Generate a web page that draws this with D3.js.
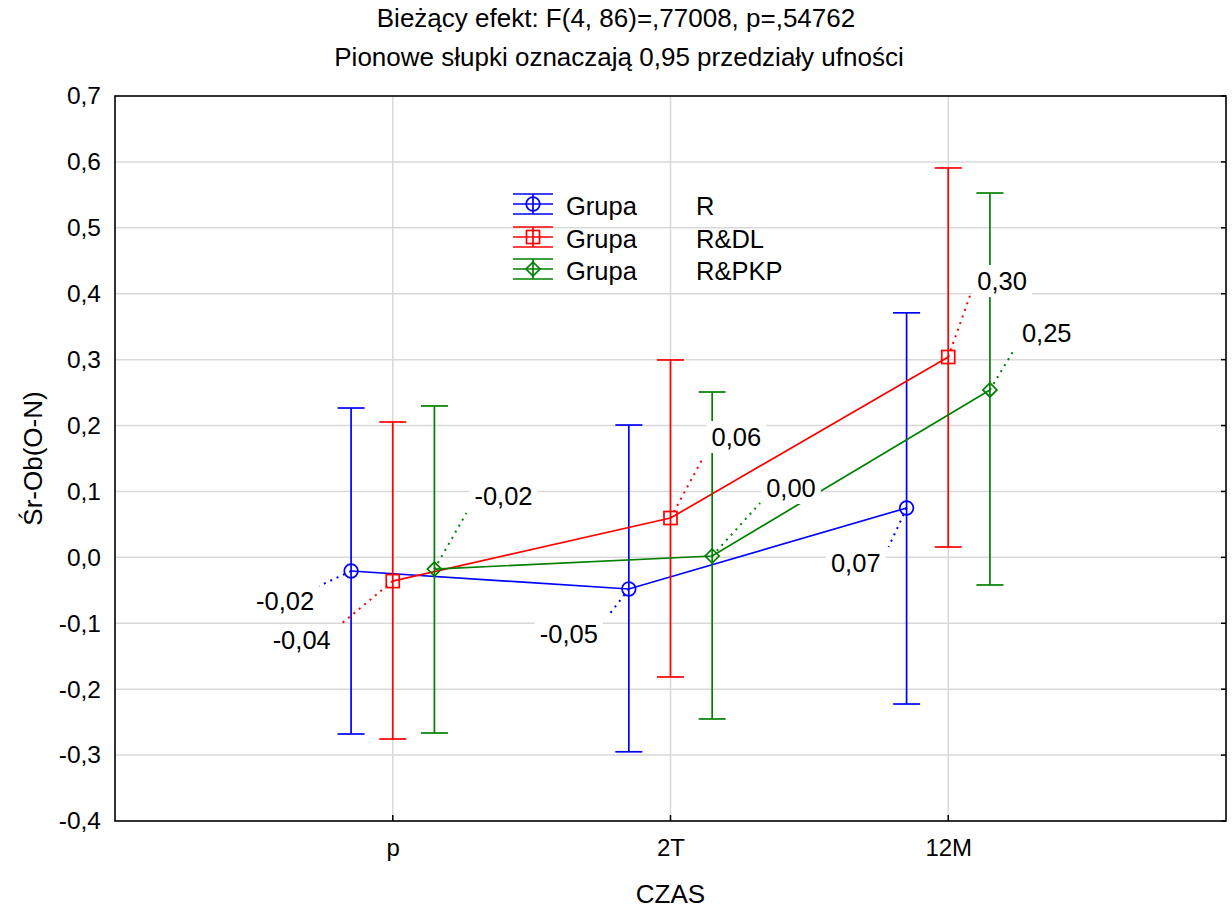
<!DOCTYPE html>
<html><head><meta charset="utf-8">
<script src="https://cdn.jsdelivr.net/npm/d3@7"></script>
<style>body{margin:0;background:#fff}svg{display:block}text{font-family:"Liberation Sans",Arial,sans-serif;fill:#000}</style>
</head><body><svg id="c" width="1232" height="908"></svg>
<script>
const categories = ["p", "2T", "12M"];
const groups = ["R", "R&DL", "R&PKP"];
const meanR = [-0.0207, -0.048, 0.0749];
const lowR = [-0.268, -0.295, -0.2225];
const highR = [0.2266, 0.2008, 0.371];
const meanRDL = [-0.036, 0.0597, 0.304];
const lowRDL = [-0.2756, -0.1815, 0.0157];
const highRDL = [0.2054, 0.2995, 0.5908];
const meanRPKP = [-0.0177, 0.0021, 0.254];
const lowRPKP = [-0.2665, -0.2452, -0.0419];
const highRPKP = [0.2297, 0.2509, 0.5528];
const yTicks = [-0.4, -0.3, -0.2, -0.1, 0.0, 0.1, 0.2, 0.3, 0.4, 0.5, 0.6, 0.7];
const titleLines = ["Bieżący efekt: F(4, 86)=,77008, p=,54762", "Pionowe słupki oznaczają 0,95 przedziały ufności"];
const xTitle = "CZAS";
const yTitle = "Śr-Ob(O-N)";
const legendPrefix = "Grupa";

const series = [
  {name: groups[0], mean: meanR, low: lowR, high: highR, color: "#0000ff", shape: "circle", off: -0.15,
   lab: [[-32,15,-37,39,"end"],[-20,26,-31,54,"end"],[-18,39,-26,64,"end"]]},
  {name: groups[1], mean: meanRDL, low: lowRDL, high: highRDL, color: "#ff0000", shape: "square", off: 0,
   lab: [[-53,44,-62,68,"end"],[33,-61,41,-72,"start"],[22,-62,29,-67,"start"]]},
  {name: groups[2], mean: meanRPKP, low: lowRPKP, high: highRPKP, color: "#008000", shape: "diamond", off: 0.15,
   lab: [[32,-56,40,-64,"start"],[48,-53,54,-59,"start"],[24,-40,32,-48,"start"]]}
];

const loc = d3.formatLocale({decimal: ",", thousands: " ", grouping: [3], currency: ["", ""], minus: "-"});
const f2 = loc.format(".2f"), f1 = loc.format(".1f");
const FF = '"Liberation Sans",Arial,sans-serif';

const svg = d3.select("#c");
const L = 115, R = 1226, T = 96, B = 821;
const x = d3.scaleLinear().domain([0, 4]).range([L, R]);
const y = d3.scaleLinear().domain([-0.4, 0.7]).range([B, T]);

// grid
const g = svg.append("g");
g.selectAll("line.h").data(yTicks.slice(1, -1)).join("line")
  .attr("x1", L).attr("x2", R).attr("y1", d => y(d)).attr("y2", d => y(d))
  .attr("stroke", "#d9d9d9").attr("stroke-width", 1.5);
g.selectAll("line.v").data(categories).join("line")
  .attr("x1", (d, i) => x(i + 1)).attr("x2", (d, i) => x(i + 1)).attr("y1", T).attr("y2", B)
  .attr("stroke", "#d9d9d9").attr("stroke-width", 1.5);

// axes
const yAxisL = d3.axisLeft(y).tickValues(yTicks).tickSize(0).tickPadding(14).tickFormat(d => f1(d));
const ya = svg.append("g").attr("transform", `translate(${L},0)`).call(yAxisL);
ya.select(".domain").remove();
ya.selectAll("text").style("font-size", "24.5px").style("font-family", FF);
const xAxis = d3.axisBottom(x).tickValues([1, 2, 3]).tickSize(0).tickPadding(18).tickFormat(d => categories[d - 1]);
const xa = svg.append("g").attr("transform", `translate(0,${B})`).call(xAxis);
xa.select(".domain").remove();
xa.selectAll("text").style("font-size", "24px").style("font-family", FF);
// inward ticks
svg.append("g").selectAll("line").data([1, 2, 3]).join("line")
  .attr("x1", d => x(d)).attr("x2", d => x(d)).attr("y1", B).attr("y2", B - 6).attr("stroke", "#000").attr("stroke-width", 1.5);
svg.append("g").selectAll("line").data(yTicks).join("line")
  .attr("x1", R).attr("x2", R - 5).attr("y1", d => y(d)).attr("y2", d => y(d)).attr("stroke", "#000").attr("stroke-width", 1.5);

// titles
svg.append("text").attr("x", 616).attr("y", 27).attr("text-anchor", "middle").style("font-size", "26px").text(titleLines[0]);
svg.append("text").attr("x", 619).attr("y", 66).attr("text-anchor", "middle").style("font-size", "26px").text(titleLines[1]);
svg.append("text").attr("x", x(2)).attr("y", 903).attr("text-anchor", "middle").style("font-size", "26px").text(xTitle);
svg.append("text").attr("transform", `translate(42,${y(0.15)}) rotate(-90)`).attr("text-anchor", "middle").style("font-size", "26px").text(yTitle);

function marker(sel, shape, color) {
  if (shape === "circle") sel.append("circle").attr("r", 6.8);
  else if (shape === "square") sel.append("rect").attr("x", -6.5).attr("y", -6.5).attr("width", 13).attr("height", 13);
  else sel.append("path").attr("d", "M0,-7L7,0L0,7L-7,0Z");
  sel.selectAll("*").attr("fill", "none").attr("stroke", color).attr("stroke-width", 1.7);
}

const capW = 13.5;
series.forEach(s => {
  const gs = svg.append("g");
  const px = i => x(i + 1 + s.off);
  categories.forEach((c, i) => {
    gs.append("line").attr("x1", px(i)).attr("x2", px(i)).attr("y1", y(s.low[i])).attr("y2", y(s.high[i]))
      .attr("stroke", s.color).attr("stroke-width", 1.7);
    [s.low[i], s.high[i]].forEach(v => gs.append("line").attr("x1", px(i) - capW).attr("x2", px(i) + capW)
      .attr("y1", y(v)).attr("y2", y(v)).attr("stroke", s.color).attr("stroke-width", 1.7));
  });
  const line = d3.line().x((d, i) => px(i)).y(d => y(d));
  gs.append("path").attr("d", line(s.mean)).attr("fill", "none").attr("stroke", s.color).attr("stroke-width", 1.7);
  s.mean.forEach((v, i) => {
    gs.append("g").attr("transform", `translate(${px(i)},${y(v)})`).call(marker, s.shape, s.color);
  });
});

// value labels
series.forEach(s => {
  const px = i => x(i + 1 + s.off);
  s.mean.forEach((v, i) => {
    const [lx, ly, tx, ty, anc] = s.lab[i];
    const cx = px(i), cy = y(v);
    svg.append("line").attr("x1", cx).attr("y1", cy).attr("x2", cx + lx).attr("y2", cy + ly)
      .attr("stroke", s.color).attr("stroke-width", 2).attr("stroke-dasharray", "2,5");
    const gl = svg.append("g");
    const t = gl.append("text").attr("x", cx + tx).attr("y", cy + ty).attr("text-anchor", anc)
      .style("font-size", "25.5px").text(f2(v));
    const bb = t.node().getBBox();
    gl.insert("rect", "text").attr("x", bb.x - 5).attr("y", bb.y - 2).attr("width", bb.width + 10).attr("height", bb.height + 4).attr("fill", "#fff");
  });
});

// legend
const legY = [204, 237, 269];
series.forEach((s, k) => {
  const gy = legY[k];
  const gl = svg.append("g").attr("transform", `translate(533,${gy})`);
  [-10, 0, 10].forEach(dy => gl.append("line").attr("x1", -20).attr("x2", 20).attr("y1", dy).attr("y2", dy).attr("stroke", s.color).attr("stroke-width", 1.7));
  gl.append("line").attr("x1", 0).attr("x2", 0).attr("y1", -10).attr("y2", 10).attr("stroke", s.color).attr("stroke-width", 1.7);
  gl.append("g").call(marker, s.shape, s.color);
  svg.append("text").attr("x", 566).attr("y", gy + 11).style("font-size", "25.5px").text(legendPrefix);
  svg.append("text").attr("x", 696).attr("y", gy + 11).style("font-size", "25.5px").text(s.name);
});

// frame
svg.append("rect").attr("x", L).attr("y", T).attr("width", R - L).attr("height", B - T)
  .attr("fill", "none").attr("stroke", "#000").attr("stroke-width", 1.6);
</script></body></html>
